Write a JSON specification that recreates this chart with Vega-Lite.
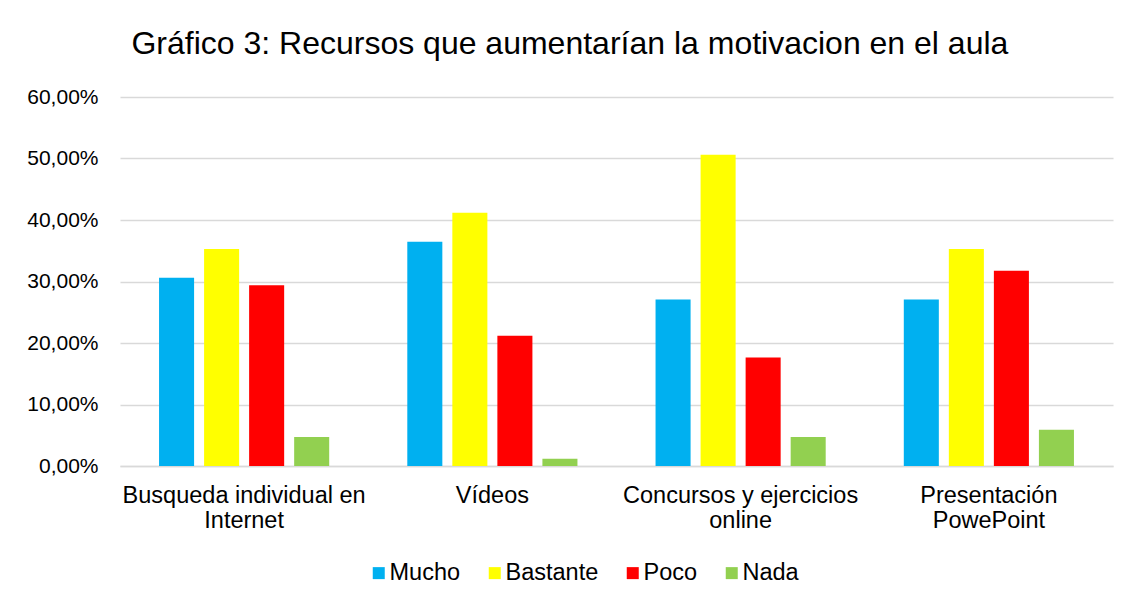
{
  "$schema": "https://vega.github.io/schema/vega-lite/v6.json",
  "width": 993,
  "height": 369,
  "padding": {"left": 26, "top": 28, "right": 21, "bottom": 10},
  "background": "white",
  "title": {
    "text": "Gráfico 3: Recursos que aumentarían la motivacion en el aula",
    "font": "Liberation Sans",
    "fontSize": 32,
    "fontWeight": "normal",
    "color": "#000000",
    "anchor": "middle",
    "frame": "bounds",
    "offset": 25
  },
  "data": {
    "values": [
      {"recurso": "Busqueda individual en Internet", "nivel": "Mucho", "valor": 0.3059},
      {"recurso": "Busqueda individual en Internet", "nivel": "Bastante", "valor": 0.3529},
      {"recurso": "Busqueda individual en Internet", "nivel": "Poco", "valor": 0.2941},
      {"recurso": "Busqueda individual en Internet", "nivel": "Nada", "valor": 0.0471},
      {"recurso": "Vídeos", "nivel": "Mucho", "valor": 0.3647},
      {"recurso": "Vídeos", "nivel": "Bastante", "valor": 0.4118},
      {"recurso": "Vídeos", "nivel": "Poco", "valor": 0.2118},
      {"recurso": "Vídeos", "nivel": "Nada", "valor": 0.0118},
      {"recurso": "Concursos y ejercicios online", "nivel": "Mucho", "valor": 0.2706},
      {"recurso": "Concursos y ejercicios online", "nivel": "Bastante", "valor": 0.5059},
      {"recurso": "Concursos y ejercicios online", "nivel": "Poco", "valor": 0.1765},
      {"recurso": "Concursos y ejercicios online", "nivel": "Nada", "valor": 0.0471},
      {"recurso": "Presentación PowePoint", "nivel": "Mucho", "valor": 0.2706},
      {"recurso": "Presentación PowePoint", "nivel": "Bastante", "valor": 0.3529},
      {"recurso": "Presentación PowePoint", "nivel": "Poco", "valor": 0.3176},
      {"recurso": "Presentación PowePoint", "nivel": "Nada", "valor": 0.0588}
    ]
  },
  "mark": {"type": "bar"},
  "encoding": {
    "x": {
      "field": "recurso",
      "type": "nominal",
      "sort": ["Busqueda individual en Internet", "Vídeos", "Concursos y ejercicios online", "Presentación PowePoint"],
      "scale": {"paddingInner": 0, "paddingOuter": 0},
      "axis": {
        "title": null,
        "labelAngle": 0,
        "labelFont": "Liberation Sans",
        "labelFontSize": 23.5,
        "labelColor": "#000000",
        "labelPadding": 17,
        "labelLineHeight": 25,
        "labelBaseline": "top",
        "labelLimit": 0,
        "ticks": false,
        "domain": true,
        "domainColor": "#d9d9d9",
        "domainWidth": 1.5,
        "labelExpr": "datum.value == 'Busqueda individual en Internet' ? ['Busqueda individual en', 'Internet'] : datum.value == 'Concursos y ejercicios online' ? ['Concursos y ejercicios', 'online'] : datum.value == 'Presentación PowePoint' ? ['Presentación', 'PowePoint'] : datum.value"
      }
    },
    "xOffset": {
      "field": "nivel",
      "type": "nominal",
      "sort": ["Mucho", "Bastante", "Poco", "Nada"],
      "scale": {"paddingInner": 0.222, "paddingOuter": 0.867}
    },
    "y": {
      "field": "valor",
      "type": "quantitative",
      "scale": {"domain": [0, 0.6], "nice": false},
      "axis": {
        "title": null,
        "values": [0, 0.1, 0.2, 0.3, 0.4, 0.5, 0.6],
        "labelExpr": "replace(format(datum.value, '.2%'), '.', ',')",
        "labelFont": "Liberation Sans",
        "labelFontSize": 21,
        "labelColor": "#000000",
        "labelPadding": 22,
        "ticks": false,
        "domain": false,
        "grid": true,
        "gridColor": "#d9d9d9",
        "gridWidth": 1.5
      }
    },
    "color": {
      "field": "nivel",
      "type": "nominal",
      "sort": ["Mucho", "Bastante", "Poco", "Nada"],
      "scale": {
        "domain": ["Mucho", "Bastante", "Poco", "Nada"],
        "range": ["#00B0F0", "#FFFF00", "#FF0000", "#92D050"]
      },
      "legend": {
        "title": null,
        "orient": "none",
        "legendX": 247,
        "legendY": 464,
        "direction": "horizontal",
        "symbolType": "square",
        "symbolSize": 144,
        "symbolStrokeWidth": 0,
        "labelFont": "Liberation Sans",
        "labelFontSize": 23.5,
        "labelColor": "#000000",
        "labelOffset": -1,
        "columnPadding": 22
      }
    }
  },
  "config": {
    "view": {"stroke": null}
  }
}
